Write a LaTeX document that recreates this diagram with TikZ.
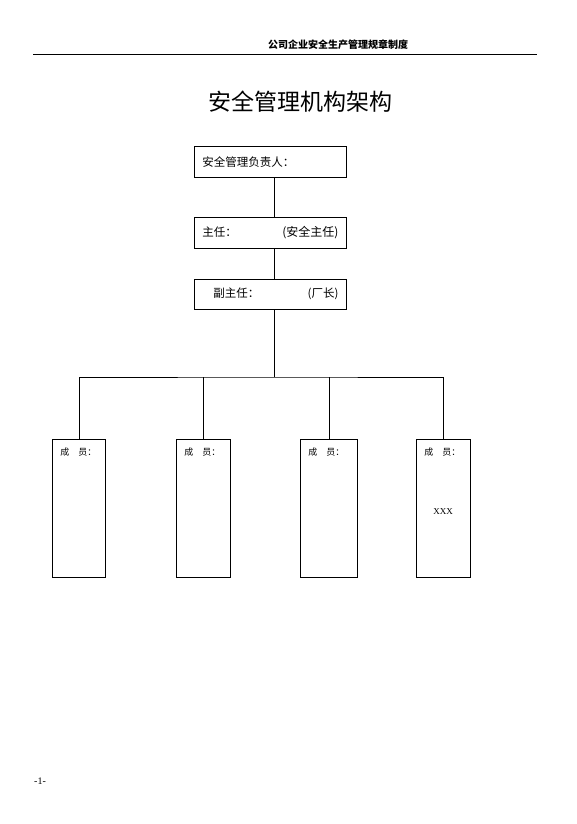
\documentclass[tikz,border=0pt]{standalone}
\usepackage{fontspec}
\setmainfont{Liberation Serif}
\newfontfamily\cjk{Noto Sans CJK SC}
\usetikzlibrary{positioning}

\begin{document}
\begin{tikzpicture}[x=1pt, y=-1pt, line width=0.9pt,
        post/.style={draw, minimum width=152pt, minimum height=31pt, inner xsep=8pt, font=\cjk\fontsize{11.5}{13}\selectfont},
        member/.style={draw, minimum height=138pt, anchor=north west},
        tag/.style={anchor=north west, inner sep=0pt, font=\cjk\fontsize{9}{11}\selectfont}]
        \useasboundingbox (0,0) rectangle (577,824);

        \node[font=\cjk\bfseries\fontsize{10}{12}\selectfont] (header) at (338,45) {公司企业安全生产管理规章制度};
        \coordinate (ruleL) at (33,54);
        \coordinate (ruleR) at (537,54);
        \draw[line width=0.8pt] (ruleL) -- (ruleR);
        \node[font=\cjk\fontsize{23}{27}\selectfont] (title) at (300,102) {安全管理机构架构};

        \node[post, anchor=north west] (boss) at (194,146) {\hbox to 136pt{安全管理负责人：\hfill}};
        \node[post, below=39pt of boss] (chief) {\hbox to 136pt{主任：\hfill{\fontsize{12}{14}\selectfont(安全主任)}}};
        \node[post, below=30pt of chief, minimum height=30pt] (deputy) {\hbox to 136pt{\hspace{11pt}副主任：\hfill(厂长)}};

        \node[member, minimum width=53pt] (m1) at (52,439) {};
        \node[member, minimum width=54pt] (m2) at (176,439) {};
        \node[member, minimum width=57pt] (m3) at (300,439) {};
        \node[member, minimum width=54pt] (m4) at (416,439) {};

        \node[tag] (t1) at ([shift={(8pt,-8pt)}]m1.north west) {成\hspace{9pt}员：};
        \node[tag] (t2) at ([shift={(8pt,-8pt)}]m2.north west) {成\hspace{9pt}员：};
        \node[tag] (t3) at ([shift={(8pt,-8pt)}]m3.north west) {成\hspace{9pt}员：};
        \node[tag] (t4) at ([shift={(8pt,-8pt)}]m4.north west) {成\hspace{9pt}员：};
        \node[font=\fontsize{9}{11}\selectfont] (xxx) at (443,512) {XXX};

        \node[font=\fontsize{10}{12}\selectfont] (page) at (40,781) {-1-};

        \coordinate (bus) at (274,377);
        \draw (boss.south -| bus) -- (chief.north -| bus);
        \draw (chief.south -| bus) -- (deputy.north -| bus);
        \draw (deputy.south -| bus) -- (bus);
        \draw (m1.north) |- (bus) -| (m4.north);
        \draw (m2.north) -- (m2.north |- bus);
        \draw (m3.north) -- (m3.north |- bus);
\end{tikzpicture}
\end{document}
